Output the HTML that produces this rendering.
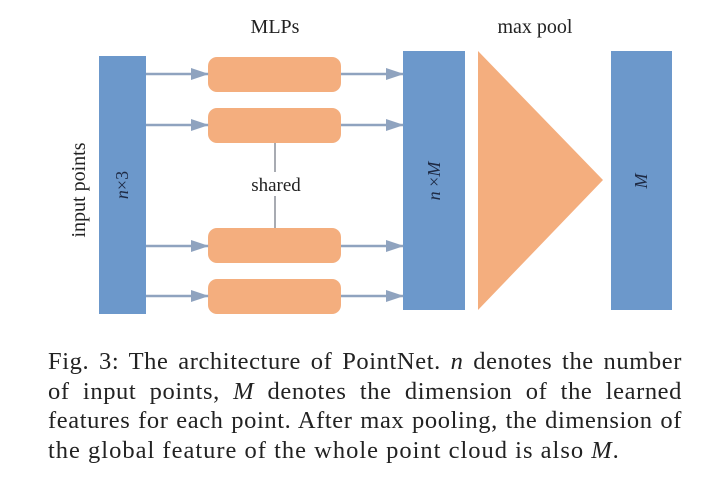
<!DOCTYPE html>
<html><head><style>
body{margin:0;background:#fff;width:711px;height:480px;overflow:hidden;position:relative;font-family:"Liberation Serif",serif;}
.cap{position:absolute;left:48px;top:347px;width:634px;font-size:24.5px;line-height:29.5px;color:#222;letter-spacing:0.6px;}
.cap div{text-align:justify;text-align-last:justify;white-space:nowrap;}
.cap div.l{text-align-last:left;letter-spacing:1px;}
i{font-style:italic}
</style></head><body>
<svg width="711" height="340" style="position:absolute;left:0;top:0" font-family="Liberation Serif, serif">
<defs>
<marker id="b" markerWidth="18" markerHeight="12" refX="17" refY="6" orient="auto" markerUnits="userSpaceOnUse"><path d="M0,0 L18,6 L0,12 Z" fill="#8fa3bf"/></marker></defs>
<text x="275" y="33" font-size="20" text-anchor="middle" fill="#222">MLPs</text>
<text x="535" y="33" font-size="20" text-anchor="middle" fill="#222">max pool</text>
<rect x="99" y="56" width="47" height="258" fill="#6c98cb"/>
<rect x="403" y="51" width="62" height="259" fill="#6c98cb"/>
<rect x="611" y="51" width="61" height="259" fill="#6c98cb"/>
<polygon points="478,51 603,180 478,310" fill="#f4ae7e"/>
<g fill="#f4ae7e">
<rect x="208" y="57" width="133" height="35" rx="9"/>
<rect x="208" y="108" width="133" height="35" rx="9"/>
<rect x="208" y="228" width="133" height="35" rx="9"/>
<rect x="208" y="279" width="133" height="35" rx="9"/>
</g>
<line x1="275" y1="143" x2="275" y2="228" stroke="#8a8f99" stroke-width="1.5"/>
<rect x="245" y="172" width="62" height="24" fill="#fff"/>
<text x="276" y="191" font-size="19" text-anchor="middle" fill="#222">shared</text>
<g stroke="#8fa3bf" stroke-width="2.5" marker-end="url(#b)">
<line x1="146" y1="74" x2="208" y2="74"/><line x1="146" y1="125" x2="208" y2="125"/>
<line x1="146" y1="246" x2="208" y2="246"/><line x1="146" y1="296" x2="208" y2="296"/>
<line x1="341" y1="74" x2="403" y2="74"/><line x1="341" y1="125" x2="403" y2="125"/>
<line x1="341" y1="246" x2="403" y2="246"/><line x1="341" y1="296" x2="403" y2="296"/>
</g>
<text transform="translate(85,190) rotate(-90)" font-size="20" text-anchor="middle" fill="#222">input points</text>
<text transform="translate(128,185) rotate(-90)" font-size="18" text-anchor="middle" fill="#1e2a44"><tspan font-style="italic">n</tspan>×3</text>
<text transform="translate(440,181) rotate(-90)" font-size="18" text-anchor="middle" fill="#1e2a44"><tspan font-style="italic">n</tspan> ×<tspan font-style="italic">M</tspan></text>
<text transform="translate(647,181) rotate(-90)" font-size="18" text-anchor="middle" fill="#1e2a44" font-style="italic">M</text>
</svg>
<div class="cap">
<div>Fig. 3: The architecture of PointNet. <i>n</i> denotes the number</div>
<div>of input points, <i>M</i> denotes the dimension of the learned</div>
<div>features for each point. After max pooling, the dimension of</div>
<div class="l">the global feature of the whole point cloud is also <i>M</i>.</div>
</div>
</body></html>
